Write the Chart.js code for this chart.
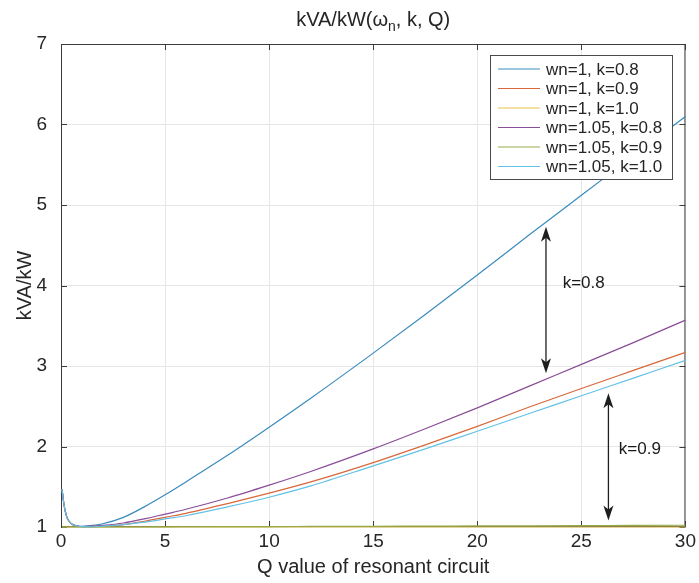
<!DOCTYPE html>
<html>
<head>
<meta charset="utf-8">
<title>kVA/kW</title>
<script src="https://cdn.jsdelivr.net/npm/chart.js@4/dist/chart.umd.min.js"></script>
<style>
  html, body { margin: 0; padding: 0; background: #ffffff; }
  #wrap { width: 699px; height: 583px; }
</style>
</head>
<body>
<div id="wrap"><canvas id="kvaChart" width="699" height="583"></canvas></div>
<script>
// Q values (x) shared by every curve
const qValues = [0.05, 0.1, 0.15, 0.2, 0.3, 0.5, 0.75, 1, 1.5, 2, 3, 4, 5, 6, 8, 10, 12, 15, 17.5, 20, 22.5, 25, 27.5, 30];

// kVA/kW
const wn1k08 = [1.47, 1.36, 1.27, 1.20, 1.11, 1.04, 1.015, 1.008, 1.02, 1.04, 1.12, 1.25, 1.40, 1.56, 1.89, 2.24, 2.60, 3.16, 3.64, 4.13, 4.63, 5.12, 5.61, 6.10];
const wn1k09 = [1.47, 1.36, 1.27, 1.20, 1.11, 1.04, 1.015, 1.004, 1.005, 1.01, 1.03, 1.07, 1.12, 1.17, 1.29, 1.42, 1.56, 1.80, 2.02, 2.25, 2.49, 2.72, 2.945, 3.17];
const wn1k10 = [1, 1, 1, 1, 1, 1, 1, 1, 1, 1, 1, 1, 1, 1, 1, 1, 1, 1, 1, 1, 1, 1, 1, 1];
const wn105k08 = [1.47, 1.36, 1.27, 1.20, 1.11, 1.04, 1.015, 1.005, 1.01, 1.02, 1.05, 1.10, 1.16, 1.22, 1.36, 1.52, 1.69, 1.97, 2.22, 2.48, 2.75, 3.02, 3.29, 3.57];
const wn105k09 = [1, 1, 1, 1, 1, 1, 1, 1, 1, 1, 1, 1, 1.002, 1.003, 1.004, 1.005, 1.007, 1.009, 1.011, 1.013, 1.015, 1.017, 1.02, 1.022];
const wn105k10 = [1.47, 1.36, 1.27, 1.20, 1.11, 1.04, 1.015, 1.004, 1.0, 1.01, 1.03, 1.06, 1.10, 1.14, 1.25, 1.37, 1.51, 1.76, 1.97, 2.19, 2.41, 2.63, 2.85, 3.07];

const seriesLabels = ['wn=1, k=0.8', 'wn=1, k=0.9', 'wn=1, k=1.0', 'wn=1.05, k=0.8', 'wn=1.05, k=0.9', 'wn=1.05, k=1.0'];
const seriesValues = [wn1k08, wn1k09, wn1k10, wn105k08, wn105k09, wn105k10];
const seriesColors = ['#3a8bbd', '#d8683a', '#e6c14a', '#8a4d98', '#93ab4c', '#62c2e6'];

// axis ticks
const xTicks = [0, 5, 10, 15, 20, 25, 30];
const yTicks = [1, 2, 3, 4, 5, 6, 7];

// annotations (double arrows and their labels)
const arrowQ = [23.3, 26.3];
const arrowFrom = [2.91, 1.08];
const arrowTo = [4.73, 2.66];
const noteText = ['k=0.8', 'k=0.9'];
const noteQ = [24.1, 26.8];
const noteV = [4.03, 1.96];

const FONT = '"Liberation Sans", Arial, Helvetica, sans-serif';
const TEXT = '#262626';

function arrowHead(ctx, x, y, s) {
    // s = 1: tip points up, s = -1: tip points down
    ctx.beginPath();
    ctx.moveTo(x, y);
    ctx.lineTo(x - 5, y + 15 * s);
    ctx.lineTo(x, y + 11 * s);
    ctx.lineTo(x + 5, y + 15 * s);
    ctx.closePath();
    ctx.fill();
}

const matlabLook = {
    id: 'matlabLook',
    beforeDatasetsDraw(chart) {
        const { ctx, chartArea: a, scales: { x, y } } = chart;
        ctx.save();
        ctx.strokeStyle = '#3c3c3c';
        ctx.lineWidth = 1;
        ctx.strokeRect(a.left + 0.5, a.top + 0.5, a.right - a.left - 1, a.bottom - a.top - 1);
        ctx.beginPath();
        xTicks.forEach(v => {
            const px = Math.round(x.getPixelForValue(v)) + 0.5;
            ctx.moveTo(px, a.bottom); ctx.lineTo(px, a.bottom - 6);
            ctx.moveTo(px, a.top); ctx.lineTo(px, a.top + 6);
        });
        yTicks.forEach(v => {
            const py = Math.round(y.getPixelForValue(v)) + 0.5;
            ctx.moveTo(a.left, py); ctx.lineTo(a.left + 6, py);
            ctx.moveTo(a.right, py); ctx.lineTo(a.right - 6, py);
        });
        ctx.stroke();
        ctx.restore();
    },
    afterDraw(chart) {
        const { ctx, chartArea: a, scales: { x, y } } = chart;
        ctx.save();

        // title with subscript n
        const parts = [['kVA/kW(\u03c9', 20, 0], ['n', 14, 5], [', k, Q)', 20, 0]];
        let total = 0;
        parts.forEach(p => { ctx.font = p[1] + 'px ' + FONT; total += ctx.measureText(p[0]).width; });
        let tx = (a.left + a.right) / 2 - total / 2;
        ctx.fillStyle = TEXT;
        ctx.textBaseline = 'alphabetic';
        ctx.textAlign = 'left';
        parts.forEach(p => {
            ctx.font = p[1] + 'px ' + FONT;
            ctx.fillText(p[0], tx, 26 + p[2]);
            tx += ctx.measureText(p[0]).width;
        });

        // double arrows
        ctx.strokeStyle = '#1e1e1e';
        ctx.fillStyle = '#1e1e1e';
        ctx.lineWidth = 1.3;
        arrowQ.forEach((q, i) => {
            const px = x.getPixelForValue(q);
            const yLow = y.getPixelForValue(arrowFrom[i]);
            const yHigh = y.getPixelForValue(arrowTo[i]);
            ctx.beginPath();
            ctx.moveTo(px, yHigh + 8);
            ctx.lineTo(px, yLow - 8);
            ctx.stroke();
            arrowHead(ctx, px, yHigh, 1);
            arrowHead(ctx, px, yLow, -1);
        });
        ctx.font = '17px ' + FONT;
        ctx.fillStyle = '#1a1a1a';
        ctx.textBaseline = 'middle';
        noteText.forEach((t, i) => {
            ctx.fillText(t, x.getPixelForValue(noteQ[i]), y.getPixelForValue(noteV[i]));
        });

        // legend box
        const lx = 490, ly = 55, lw = 182, lh = 124;
        ctx.fillStyle = '#ffffff';
        ctx.fillRect(lx, ly, lw, lh);
        ctx.strokeStyle = '#4a4a4a';
        ctx.lineWidth = 1;
        ctx.strokeRect(lx + 0.5, ly + 0.5, lw, lh);
        ctx.font = '17px ' + FONT;
        chart.data.datasets.forEach((ds, i) => {
            const ry = 69 + i * 19.5;
            ctx.strokeStyle = ds.borderColor;
            ctx.lineWidth = 1.2;
            ctx.beginPath();
            ctx.moveTo(498, ry);
            ctx.lineTo(540, ry);
            ctx.stroke();
            ctx.fillStyle = TEXT;
            ctx.fillText(ds.label, 546, ry + 1);
        });
        ctx.restore();
    }
};

const datasets = seriesLabels.map((label, i) => ({
    label: label,
    data: qValues.map((q, j) => ({ x: q, y: seriesValues[i][j] })),
    borderColor: seriesColors[i],
    backgroundColor: seriesColors[i],
    borderWidth: 1.2,
    pointRadius: 0,
    fill: false,
    cubicInterpolationMode: 'monotone',
    clip: 3,
    order: seriesLabels.length - 1 - i
}));

new Chart(document.getElementById('kvaChart'), {
    type: 'line',
    data: { datasets: datasets },
    options: {
        responsive: false,
        animation: false,
        layout: { padding: { top: 44, right: 13, left: 0, bottom: 0 } },
        plugins: {
            legend: { display: false },
            title: { display: false },
            tooltip: { enabled: false }
        },
        scales: {
            x: {
                type: 'linear',
                min: 0,
                max: 30,
                afterFit: s => { s.height = 56; },
                afterBuildTicks: s => { s.ticks = xTicks.map(v => ({ value: v })); },
                grid: { color: '#e6e6e6', drawTicks: false },
                border: { display: false },
                ticks: { color: TEXT, font: { family: FONT, size: 19 }, padding: 3, maxRotation: 0 },
                title: {
                    display: true,
                    text: 'Q value of resonant circuit',
                    color: TEXT,
                    font: { family: FONT, size: 20 },
                    padding: { top: 0, bottom: 4 }
                }
            },
            y: {
                type: 'linear',
                min: 1,
                max: 7,
                afterFit: s => { s.width = 61; },
                afterBuildTicks: s => { s.ticks = yTicks.map(v => ({ value: v })); },
                grid: { color: '#e6e6e6', drawTicks: false },
                border: { display: false },
                ticks: { color: TEXT, font: { family: FONT, size: 19 }, padding: 14 },
                title: {
                    display: true,
                    text: 'kVA/kW',
                    color: TEXT,
                    font: { family: FONT, size: 20 },
                    padding: { top: 13, bottom: 0 }
                }
            }
        }
    },
    plugins: [matlabLook]
});
</script>
</body>
</html>
